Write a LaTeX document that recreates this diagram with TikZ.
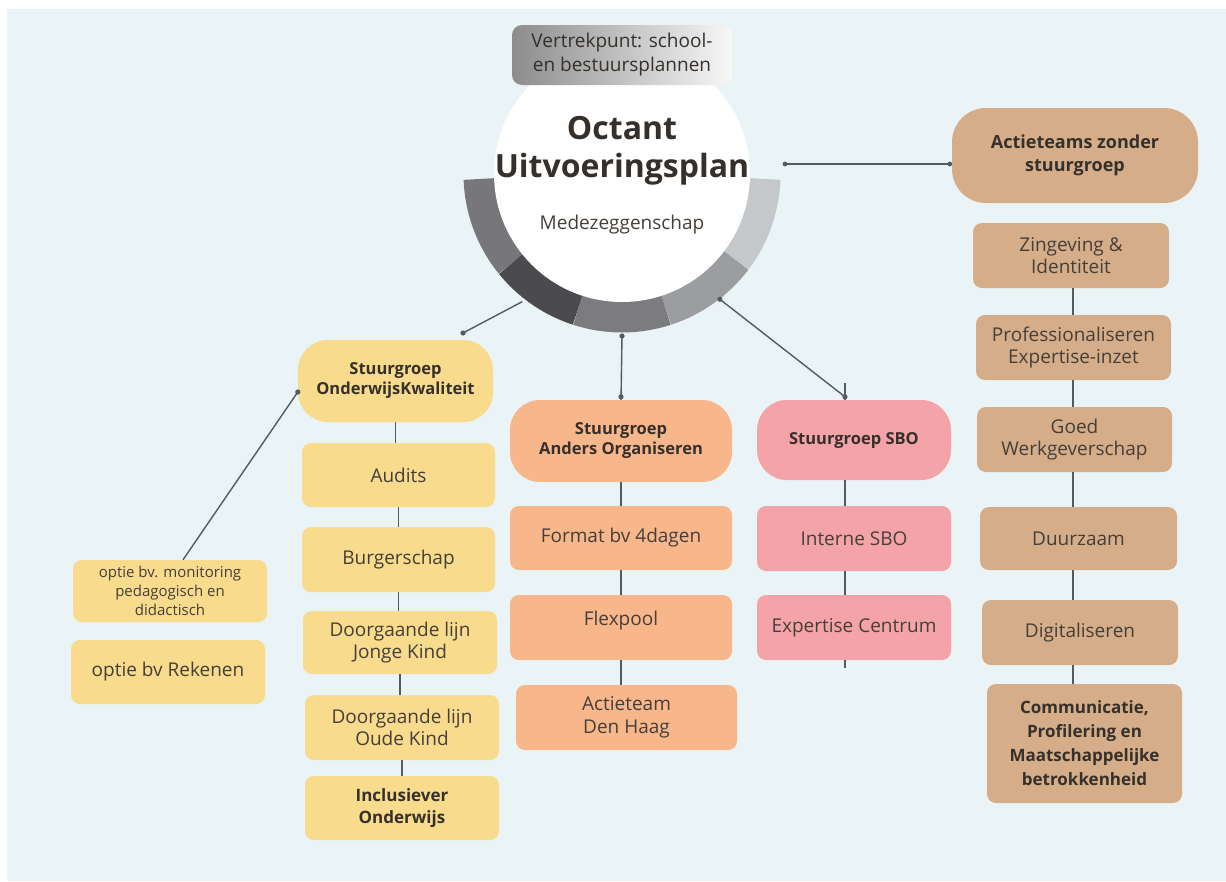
\documentclass[tikz,border=0pt]{standalone}
\usepackage{fontspec}
\setmainfont{Open Sans}
\usetikzlibrary{calc}
\definecolor{bgc}{HTML}{EAF3F5}
\definecolor{yel}{HTML}{F8DB8C}
\definecolor{ora}{HTML}{F8B68B}
\definecolor{pnk}{HTML}{F4A4A9}
\definecolor{tanc}{HTML}{D5AD88}
\definecolor{txt}{HTML}{453F3A}
\definecolor{btx}{HTML}{35302B}
\definecolor{lc}{HTML}{555A5E}
\definecolor{sga}{HTML}{77777B}
\definecolor{sgb}{HTML}{4B4B4F}
\definecolor{sgc}{HTML}{7C7C80}
\definecolor{sgd}{HTML}{9B9DA1}
\definecolor{sge}{HTML}{C5C8CB}
\begin{document}
\begin{tikzpicture}[x=1pt,y=-1pt,
  sz/.style 2 args={minimum width=#1pt, minimum height=#2pt},
  bx/.style={rounded corners=9pt, inner sep=0pt, align=center, text=txt, font=\fontsize{19}{22.5}\selectfont},
  pill/.style={rounded corners=30pt, inner sep=0pt, align=center, text=btx, font=\bfseries\fontsize{16.5}{20}\selectfont},
  conn/.style={draw=lc, line width=1.4pt},
  seg/.style={line width=33pt}
]
\useasboundingbox (0,0) rectangle (1226,881);
\fill[white] (0,0) rectangle (1226,881);
\fill[bgc] (7,9) rectangle (1226,881);

% hub
\coordinate (ctr) at (622,174);
\draw[seg, sga] ($(ctr)+(178:142)$) arc[start angle=178, end angle=141, radius=142];
\draw[seg, sgb] ($(ctr)+(141:142)$) arc[start angle=141, end angle=108, radius=142];
\draw[seg, sgc] ($(ctr)+(108:142)$) arc[start angle=108, end angle=72, radius=142];
\draw[seg, sgd] ($(ctr)+(72:142)$) arc[start angle=72, end angle=37, radius=142];
\draw[seg, sge] ($(ctr)+(37:142)$) arc[start angle=37, end angle=2, radius=142];
\node[circle, fill=white, minimum size=256pt, inner sep=0pt] (hub) at (ctr) {};
\node[rounded corners=10pt, left color=black!45, right color=white!97!black, sz={220}{60}, inner sep=0pt, align=center, text=btx, font=\fontsize{19}{24}\selectfont] (vp) at (622,55) {Vertrekpunt: school-\\en bestuursplannen};
\node[align=center, text=btx, font=\bfseries\fontsize{32}{38}\selectfont] (ttl) at (622,151) {Octant\\Uitvoeringsplan};
\node[text=txt, font=\fontsize{19}{22}\selectfont] (mz) at (622,225) {Medezeggenschap};

% yellow column
\node[pill, fill=yel, sz={195}{82}] (sOK) at (395.5,381) {Stuurgroep\\OnderwijsKwaliteit};
\node[bx, fill=yel, sz={193}{64}] (audits) at (398.5,475) {Audits};
\node[bx, fill=yel, sz={193}{65}] (burger) at (398.5,559.5) {Burgerschap};
\node[bx, fill=yel, sz={194}{63}] (jonge) at (400,642.5) {Doorgaande lijn\\Jonge Kind};
\node[bx, fill=yel, sz={194}{65}] (oude) at (402,727.5) {Doorgaande lijn\\Oude Kind};
\node[bx, fill=yel, sz={194}{64}, text=btx, font=\bfseries\fontsize{17}{22}\selectfont] (incl) at (402,808) {Inclusiever\\Onderwijs};
\node[bx, fill=yel, sz={194}{62}, font=\fontsize{15}{19}\selectfont] (opt1) at (170,591) {optie bv. monitoring\\pedagogisch en\\didactisch};
\node[bx, fill=yel, sz={194}{64}] (opt2) at (168,672) {optie bv Rekenen};

% orange column
\node[pill, fill=ora, sz={222}{82}] (sAO) at (621,441) {Stuurgroep\\Anders Organiseren};
\node[bx, fill=ora, sz={222}{64}] (fmt) at (621,538) {Format bv 4dagen};
\node[bx, fill=ora, sz={222}{65}] (flex) at (621,627.5) {\raisebox{7pt}[\height][\depth]{Flexpool}};
\node[bx, fill=ora, sz={221}{65}] (dh) at (626.5,717.5) {Actieteam\\Den Haag};

% pink column
\node[pill, fill=pnk, sz={194}{80}] (sSBO) at (854,440) {Stuurgroep SBO};
\node[bx, fill=pnk, sz={194}{65}] (isbo) at (854,538.5) {Interne SBO};
\node[bx, fill=pnk, sz={194}{65}] (exp) at (854,627.5) {Expertise Centrum};

% tan column
\node[pill, fill=tanc, rounded corners=34pt, sz={246}{95}, font=\bfseries\fontsize{18}{23}\selectfont] (act) at (1075,155.5) {Actieteams zonder\\stuurgroep};
\node[bx, fill=tanc, sz={196}{65}] (zin) at (1071,255.5) {Zingeving \&\\Identiteit};
\node[bx, fill=tanc, sz={195}{65}] (prof) at (1073.5,347.5) {Professionaliseren\\Expertise-inzet};
\node[bx, fill=tanc, sz={195}{65}] (goed) at (1074.5,439.5) {Goed\\Werkgeverschap};
\node[bx, fill=tanc, sz={197}{63}] (duur) at (1078.5,538.5) {Duurzaam};
\node[bx, fill=tanc, sz={196}{65}] (digi) at (1080,632.5) {Digitaliseren};
\node[bx, fill=tanc, sz={195}{119}, text=btx, font=\bfseries\fontsize{17}{24}\selectfont] (comm) at (1084.5,743.5) {Communicatie,\\Profilering en\\Maatschappelijke\\betrokkenheid};

% helper coordinates
\coordinate (sbol) at (845,0);
\coordinate (tl) at (1073,0);
\coordinate (r1) at ($(ctr)+(128:162)$);
\coordinate (e1) at (463,333);
\coordinate (r2) at ($(ctr)+(90:162)$);
\coordinate (r3) at ($(ctr)+(52:159)$);
\coordinate (hr) at (785,164);

% column links
\foreach \a/\b in {sOK/audits, audits/burger, burger/jonge, jonge/oude, oude/incl, sAO/fmt, fmt/flex, flex/dh}
  \draw[conn] (\a.south) -- (\a.south |- \b.north);
\foreach \a/\b in {sSBO/isbo, isbo/exp}
  \draw[conn] (\a.south -| sbol) -- (\b.north -| sbol);
\coordinate (expend) at ($(exp.south -| sbol)+(0,8)$);
\draw[conn] (exp.south -| sbol) -- (expend);
\foreach \a/\b in {zin/prof, prof/goed, goed/duur, duur/digi, digi/comm}
  \draw[conn] (\a.south -| tl) -- (\b.north -| tl);

% hub links
\draw[conn] (r1) -- (e1);
\fill[lc] (e1) circle[radius=2.6];
\draw[conn] (r2) -- (sAO.north);
\fill[lc] (r2) circle[radius=2.6];
\fill[lc] ($(sAO.north)+(0,-3)$) circle[radius=2.6];
\draw[conn] (r3) -- ($(sSBO.north -| sbol)+(0,-3)$);
\draw[conn] (sSBO.north -| sbol) -- ++(0,-17);
\fill[lc] (r3) circle[radius=2.6];
\fill[lc] ($(sSBO.north -| sbol)+(0,-3)$) circle[radius=2.6];
\draw[conn] (hr) -- (act.west |- hr);
\fill[lc] (hr) circle[radius=2.4];
\fill[lc] ($(act.west |- hr)+(-2,0)$) circle[radius=2.4];
\draw[conn] ($(opt1.north)+(13,0)$) -- ($(sOK.west)+(0,11)$);
\fill[lc] ($(sOK.west)+(0,11)$) circle[radius=2.6];
\end{tikzpicture}
\end{document}
